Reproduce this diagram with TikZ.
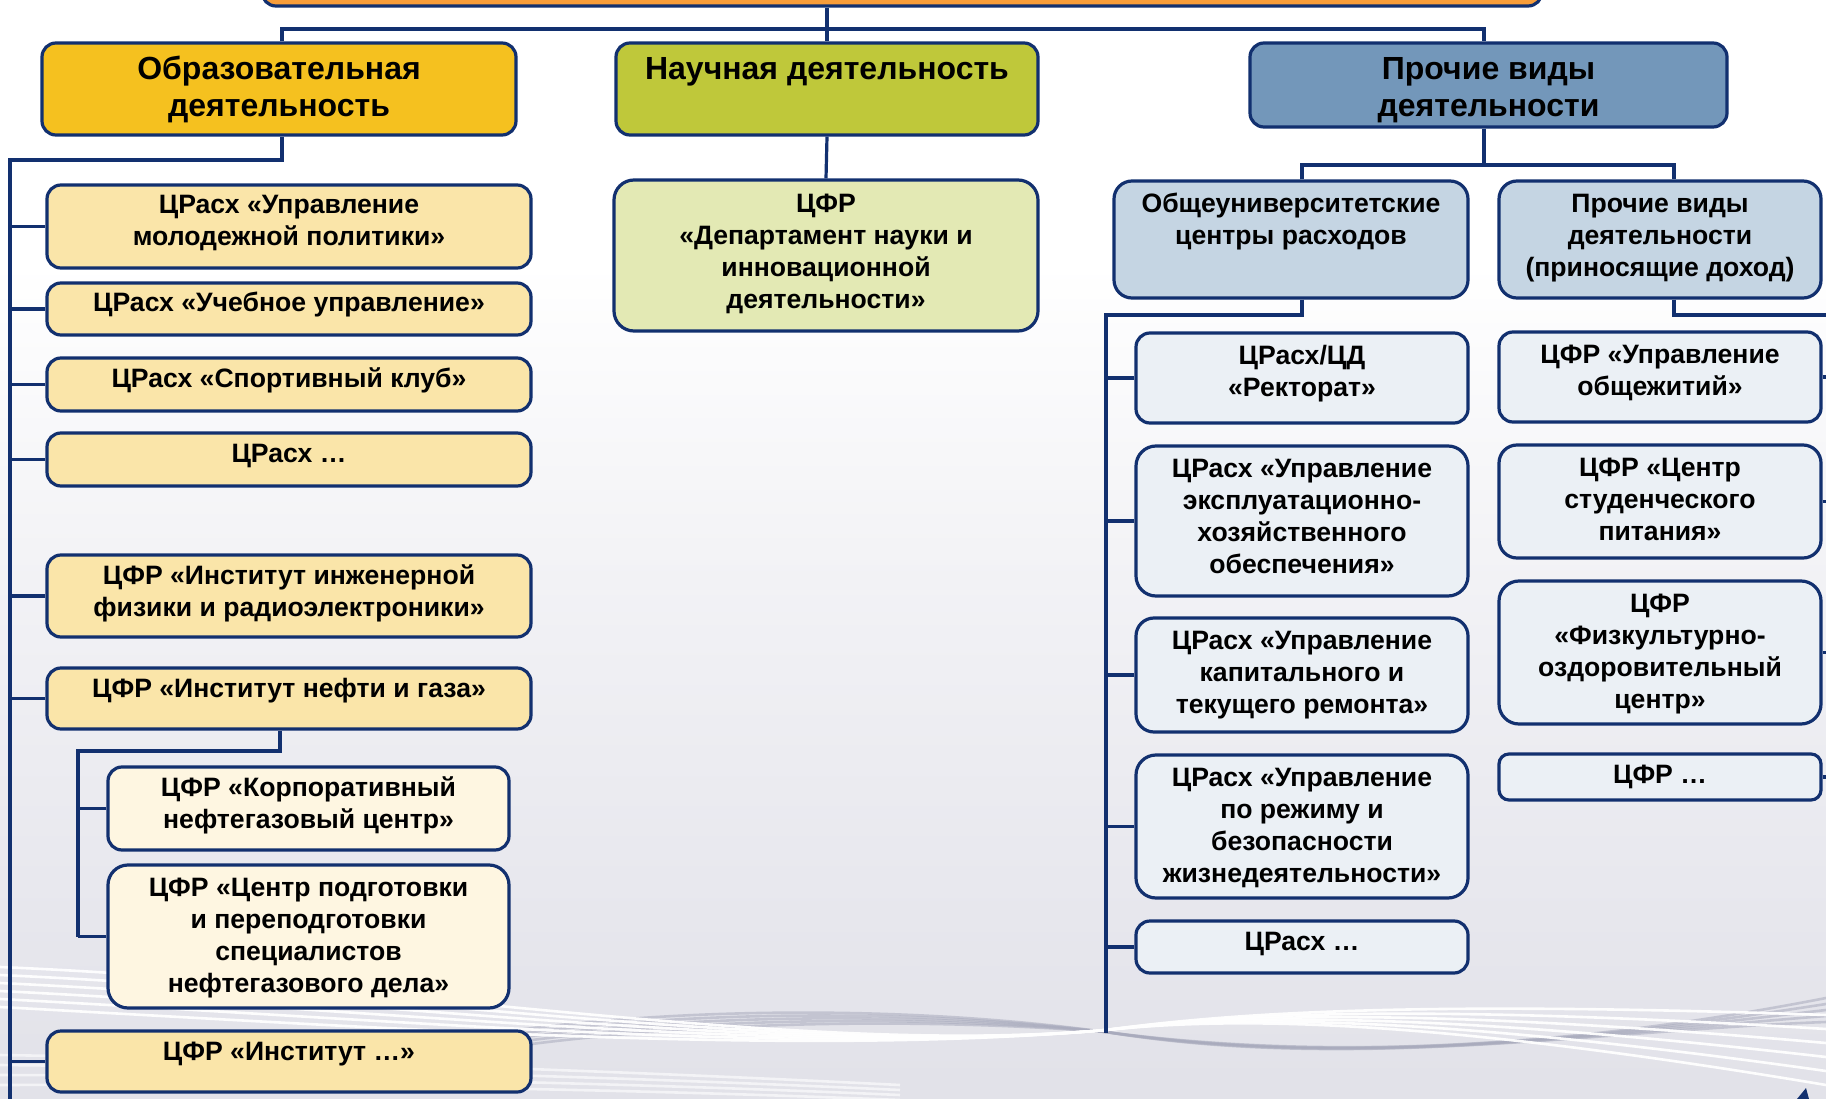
\documentclass[tikz,border=0pt]{standalone}
\usepackage{fontspec}
\setmainfont{Liberation Sans}
\usetikzlibrary{calc}
\definecolor{navy}{HTML}{12306F}
\definecolor{cOrange}{HTML}{F79D3A}
\definecolor{cObr}{HTML}{F5C11F}
\definecolor{cNau}{HTML}{BFC83A}
\definecolor{cPro}{HTML}{7397BA}
\definecolor{cLY}{HTML}{FAE5A9}
\definecolor{cSY}{HTML}{FEF6E1}
\definecolor{cNS}{HTML}{E3E9B4}
\definecolor{cMB}{HTML}{C5D5E3}
\definecolor{cLB}{HTML}{EBF0F5}
\definecolor{bg0}{HTML}{CFD0DA}
\definecolor{bg1}{HTML}{DBDBE3}
\definecolor{bg2}{HTML}{E8E8EE}
\definecolor{bg3}{HTML}{F3F3F6}
\definecolor{swg}{HTML}{A9ABBD}
\pgfdeclareverticalshading{bgshade}{100bp}{color(0bp)=(bg0); color(15bp)=(bg1); color(35bp)=(bg2); color(50bp)=(bg3); color(63bp)=(white); color(100bp)=(white)}
\tikzset{
  conn/.style={draw=navy, line width=3.2pt},
  bx/.style={draw=navy, line width=3.2pt, rounded corners=14pt, inner sep=0pt},
  txt/.style={inner sep=0pt, anchor=base, text=black, font=\bfseries\fontsize{26.6}{32}\selectfont},
  htxt/.style={inner sep=0pt, anchor=base, text=black, font=\bfseries\fontsize{32}{37}\selectfont},
  swW/.style={draw=white, line width=2.6pt, opacity=0.95},
  swG/.style={draw=swg, line width=2.6pt, opacity=0.55},
}
% name, x1, y1, x2, y2, box options, text style, baseline offset, text
\newcommand\ubox[9]{%
  \node[bx, #6, minimum width={(#4)-(#2)}, minimum height={(#5)-(#3)}] (#1) at ({((#2)+(#4))/2},{((#3)+(#5))/2}) {};
  \node[#7] (#1-t) at ({((#2)+(#4))/2},{(#3)+(#8)}) {\parbox[t]{700pt}{\centering #9}};
}
\begin{document}
\begin{tikzpicture}[x=1pt,y=-1pt]
\useasboundingbox (0,0) rectangle (1826,1099);
\clip (0,0) rectangle (1826,1099);
% background
\shade[shading=bgshade] (-2,-2) rectangle (1828,1101);
% swooshes: grey ribbon
\foreach \j in {0,...,4}{
  \draw[swG] (450,{1040+4*\j}) .. controls (650,{1006+4*\j}) and (900,{1004+3*\j}) .. (1106,1032)
    .. controls (1350,{1064+2*\j}) and (1600,{1042-3*\j}) .. (1826,{998+6*\j});
}
% swooshes: white ribbon
\foreach \i in {0,...,5}{
  \draw[swW] (0,{967+8*\i}) .. controls (420,{985+9*\i}) and (800,1056) .. (1106,1030)
    .. controls (1250,{1010+\i}) and (1450,{1002+4*\i}) .. (1826,{1015+14*\i});
}
\foreach \i in {0,...,3}{
  \draw[swW, opacity=0.6] (0,{1055+10*\i}) .. controls (300,{1060+8*\i}) and (600,{1070+6*\i}) .. (900,{1085+5*\i});
}
\fill[navy] (1797,1099) -- (1806,1088) -- (1809,1099) -- cycle;

% top (cut) box
\node[bx, fill=cOrange, minimum width=1280, minimum height=56] (root) at (902,-22) {};

% level 1
\ubox{obraz}{42}{43}{516}{135}{fill=cObr}{htxt}{37}{Образовательная\\деятельность}
\ubox{nauch}{616}{43}{1038}{135}{fill=cNau}{htxt}{37}{Научная деятельность}
\ubox{proch}{1250}{43}{1727}{127}{fill=cPro}{htxt}{37}{Прочие виды\\деятельности}

% left column
\ubox{l1}{47}{185}{531}{268}{fill=cLY}{txt}{29}{ЦРасх «Управление\\молодежной политики»}
\ubox{l2}{47}{283}{531}{335}{fill=cLY}{txt}{29}{ЦРасх «Учебное управление»}
\ubox{l3}{47}{358}{531}{411}{fill=cLY}{txt}{29}{ЦРасх «Спортивный клуб»}
\ubox{l4}{47}{433}{531}{486}{fill=cLY}{txt}{29}{ЦРасх …}
\ubox{l5}{47}{555}{531}{637}{fill=cLY}{txt}{29}{ЦФР «Институт инженерной\\физики и радиоэлектроники»}
\ubox{l6}{47}{668}{531}{729}{fill=cLY}{txt}{29}{ЦФР «Институт нефти и газа»}
\ubox{l7}{108}{767}{509}{850}{fill=cSY}{txt}{29}{ЦФР «Корпоративный\\нефтегазовый центр»}
\ubox{l8}{108}{865}{509}{1008}{fill=cSY, rounded corners=20pt}{txt}{31}{ЦФР «Центр подготовки\\и переподготовки\\специалистов\\нефтегазового дела»}
\ubox{l9}{47}{1031}{531}{1092}{fill=cLY}{txt}{29}{ЦФР «Институт …»}

% science
\ubox{n1}{614}{180}{1038}{331}{fill=cNS, rounded corners=20pt}{txt}{33}{ЦФР\\«Департамент науки и\\инновационной\\деятельности»}

% right
\ubox{ou}{1114}{181}{1468}{298}{fill=cMB, rounded corners=18pt}{txt}{32}{Общеуниверситетские\\центры расходов}
\ubox{pd}{1499}{181}{1821}{298}{fill=cMB, rounded corners=18pt}{txt}{32}{Прочие виды\\деятельности\\(приносящие доход)}

\ubox{r1}{1136}{333}{1468}{423}{fill=cLB}{txt}{31}{ЦРасх/ЦД\\«Ректорат»}
\ubox{r2}{1136}{446}{1468}{596}{fill=cLB, rounded corners=20pt}{txt}{31}{ЦРасх «Управление\\эксплуатационно-\\хозяйственного\\обеспечения»}
\ubox{r3}{1136}{618}{1468}{732}{fill=cLB, rounded corners=18pt}{txt}{31}{ЦРасх «Управление\\капитального и\\текущего ремонта»}
\ubox{r4}{1136}{755}{1468}{898}{fill=cLB, rounded corners=20pt}{txt}{31}{ЦРасх «Управление\\по режиму и\\безопасности\\жизнедеятельности»}
\ubox{r5}{1136}{921}{1468}{973}{fill=cLB}{txt}{29}{ЦРасх …}

\ubox{p1}{1499}{332}{1821}{422}{fill=cLB}{txt}{31}{ЦФР «Управление\\общежитий»}
\ubox{p2}{1499}{445}{1821}{558}{fill=cLB, rounded corners=18pt}{txt}{31}{ЦФР «Центр\\студенческого\\питания»}
\ubox{p3}{1499}{581}{1821}{724}{fill=cLB, rounded corners=20pt}{txt}{31}{ЦФР\\«Физкультурно-\\оздоровительный\\центр»}
\ubox{p4}{1499}{754}{1821}{800}{fill=cLB, rounded corners=10pt}{txt}{29}{ЦФР …}

% connectors: top level
\coordinate (busL) at (282,29);
\coordinate (busR) at (1484,29);
\draw[conn] (root.south -| nauch.north) -- (nauch.north);
\draw[conn] (obraz.north -| busL) -- (busL) -- (busR) -- (proch.north -| busR);
\draw[conn] (nauch.south) -- (n1.north);

% left tree
\coordinate (lt) at (10,160);
\coordinate (lend) at (10,1110);
\draw[conn] (obraz.south -| busL) |- (lt) -- (lend);
\foreach \n in {l1,l2,l3,l4,l5,l6,l9}{
  \draw[conn] (\n.west) -- (\n.west -| lt);
}
\coordinate (st) at (78,751);
\draw[conn] ($(l6.south)+(-9,0)$) |- (st) -- (st |- l8.west);
\draw[conn] (l7.west) -- (l7.west -| st);
\draw[conn] (l8.west) -- (l8.west -| st);

% right tree
\coordinate (b2) at (1484,165);
\draw[conn] (proch.south -| b2) -- (b2);
\draw[conn] ($(ou.north)+(11,0)$) |- (b2) -| ($(pd.north)+(14,0)$);
\coordinate (rt) at (1106,315);
\coordinate (rend) at (1106,1033);
\draw[conn] ($(ou.south)+(11,0)$) |- (rt) -- (rend);
\foreach \n in {r1,r2,r3,r4,r5}{
  \draw[conn] (\n.west) -- (\n.west -| rt);
}
\coordinate (pt) at (1840,315);
\coordinate (pend) at (1840,1000);
\draw[conn] ($(pd.south)+(14,0)$) |- (pt) -- (pend);
\foreach \n in {p1,p2,p3,p4}{
  \draw[conn] (\n.east) -- (\n.east -| pt);
}
\end{tikzpicture}
\end{document}
